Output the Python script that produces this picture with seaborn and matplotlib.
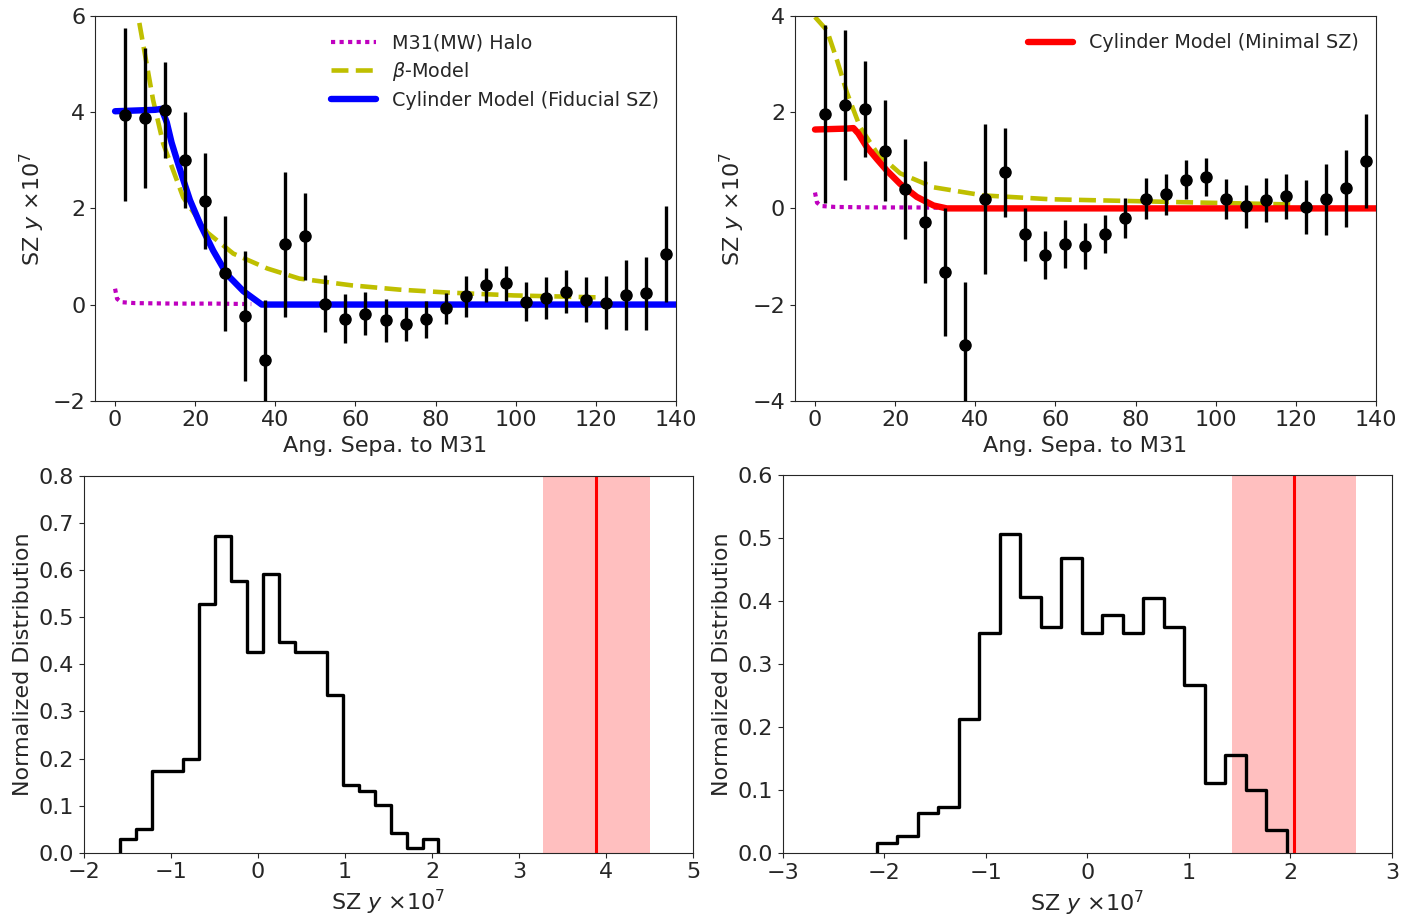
import numpy as np
import pandas as pd
import matplotlib
matplotlib.use("Agg")
import matplotlib.pyplot as plt
import seaborn as sns

# ---- profile data (angular separation in deg, SZ y x 1e7) ----
sep = [2.5, 7.5, 12.5, 17.5, 22.5, 27.5, 32.5, 37.5, 42.5, 47.5,
       52.5, 57.5, 62.5, 67.5, 72.5, 77.5, 82.5, 87.5, 92.5, 97.5,
       102.5, 107.5, 112.5, 117.5, 122.5, 127.5, 132.5, 137.5]

fid_y = [3.95, 3.88, 4.04, 3.0, 2.15, 0.65, -0.23, -1.15, 1.25, 1.42,
         0.02, -0.29, -0.19, -0.33, -0.40, -0.31, -0.08, 0.17, 0.40, 0.44,
         0.06, 0.14, 0.27, 0.10, 0.04, 0.20, 0.23, 1.06]
fid_err = [1.8, 1.45, 1.0, 1.0, 1.0, 1.2, 1.35, 1.25, 1.5, 0.9,
           0.6, 0.5, 0.45, 0.45, 0.35, 0.38, 0.33, 0.42, 0.35, 0.37,
           0.4, 0.43, 0.44, 0.47, 0.55, 0.72, 0.75, 1.0]

min_y = [1.96, 2.15, 2.06, 1.2, 0.41, -0.29, -1.33, -2.85, 0.2, 0.75,
         -0.54, -0.96, -0.75, -0.79, -0.53, -0.2, 0.2, 0.29, 0.6, 0.65,
         0.2, 0.04, 0.17, 0.25, 0.02, 0.19, 0.42, 0.98]
min_err = [1.85, 1.55, 1.0, 1.05, 1.04, 1.27, 1.33, 1.32, 1.56, 0.92,
           0.55, 0.5, 0.5, 0.48, 0.4, 0.42, 0.43, 0.43, 0.4, 0.4,
           0.42, 0.44, 0.46, 0.47, 0.56, 0.74, 0.8, 0.98]

# ---- model curves ----
halo_x = [0, 0.5, 1.5, 5, 15, 25, 34]
halo_y = [0.33, 0.12, 0.05, 0.03, 0.02, 0.02, 0.01]

beta_fid_x = [0, 3, 5.75, 9.5, 12, 17, 23, 29.5, 38, 46, 59, 71, 83, 99.5, 120]
beta_fid_y = [8.0, 7.3, 6.0, 4.25, 3.35, 2.23, 1.5, 1.06, 0.75, 0.54, 0.40, 0.31, 0.25, 0.19, 0.15]

beta_min_x = [0, 3, 5.5, 8, 11.25, 15.5, 21.25, 29.5, 42, 58.75, 91, 120]
beta_min_y = [3.98, 3.7, 3.08, 2.4, 1.69, 1.15, 0.73, 0.44, 0.27, 0.19, 0.13, 0.08]

cyl_fid_x = [0, 10, 11.6, 12.9, 14.1, 15.4, 17.0, 18.7, 21.2, 24.5, 27.9, 32.0, 36.6, 140]
cyl_fid_y = [4.02, 4.05, 4.07, 3.79, 3.37, 3.02, 2.60, 2.17, 1.68, 1.12, 0.63, 0.28, 0.0, 0.0]

cyl_min_x = [0, 8, 9.6, 10.8, 12.9, 15.4, 17.9, 21.25, 25.4, 29.6, 32.9, 140]
cyl_min_y = [1.64, 1.66, 1.67, 1.56, 1.28, 1.03, 0.79, 0.51, 0.24, 0.06, 0.0, 0.0]

# ---- null distributions (normalized histograms) ----
hist_fid = [0.03, 0.05, 0.173, 0.173, 0.20, 0.529, 0.673, 0.577, 0.426, 0.591,
            0.447, 0.427, 0.427, 0.335, 0.143, 0.131, 0.102, 0.041, 0.01, 0.029]
hist_fid_range = (-1.59, 2.074)

hist_min = [0.017, 0.027, 0.064, 0.074, 0.213, 0.350, 0.506, 0.406, 0.359, 0.469,
            0.350, 0.378, 0.350, 0.405, 0.359, 0.267, 0.111, 0.156, 0.10, 0.037]
hist_min_range = (-2.077, 1.963)

obs_fid, obs_fid_err = 3.89, 0.62
obs_min, obs_min_err = 2.035, 0.61

sns.set_style("ticks")
plt.rcParams['font.family'] = ['DejaVu Sans']
plt.rcParams['mathtext.fontset'] = 'dejavusans'
FS = 16
LFS = 13.8

fig = plt.figure(figsize=(14.08, 9.17), dpi=100)
ax1 = fig.add_axes([0.0675, 0.5630, 0.4126, 0.4195])
ax2 = fig.add_axes([0.5646, 0.5630, 0.4126, 0.4195])
ax3 = fig.add_axes([0.0597, 0.0701, 0.4325, 0.4108])
ax4 = fig.add_axes([0.5561, 0.0695, 0.4325, 0.4125])

ylab = r'SZ $y$ $\times10^7$'


def profile_panel(ax, y, err, beta_x, beta_y, cyl_x, cyl_y, cyl_color, cyl_label, show_all):
    sns.lineplot(x=halo_x, y=halo_y, ax=ax, color='m', linestyle=(0, (1, 1.05)), lw=3.0,
                 label='M31(MW) Halo' if show_all else None, estimator=None, sort=False)
    sns.lineplot(x=beta_x, y=beta_y, ax=ax, color='y', linestyle='--', lw=3.3,
                 label=r'$\beta$-Model' if show_all else None, estimator=None, sort=False)
    sns.lineplot(x=cyl_x, y=cyl_y, ax=ax, color=cyl_color, lw=4.6,
                 label=cyl_label, estimator=None, sort=False)
    ax.errorbar(sep, y, yerr=err, fmt='o', color='k', ms=8, elinewidth=2.4, capsize=0, zorder=5)
    ax.set_xlim(-5, 140)
    ax.set_xticks([0, 20, 40, 60, 80, 100, 120, 140])
    ax.set_xlabel('Ang. Sepa. to M31', fontsize=FS)
    ax.set_ylabel(ylab, fontsize=FS)
    ax.tick_params(labelsize=FS)
    ax.legend(loc='upper right', frameon=False, fontsize=LFS, handlelength=2.35,
              labelspacing=0.4)


profile_panel(ax1, fid_y, fid_err, beta_fid_x, beta_fid_y, cyl_fid_x, cyl_fid_y,
              'b', 'Cylinder Model (Fiducial SZ)', True)
ax1.set_ylim(-2, 6)
ax1.set_yticks([-2, 0, 2, 4, 6])

profile_panel(ax2, min_y, min_err, beta_min_x, beta_min_y, cyl_min_x, cyl_min_y,
              'r', 'Cylinder Model (Minimal SZ)', False)
ax2.set_ylim(-4, 4)
ax2.set_yticks([-4, -2, 0, 2, 4])


def hist_panel(ax, heights, rng, obs, obs_err):
    edges = np.linspace(rng[0], rng[1], len(heights) + 1)
    df = pd.DataFrame({'sz': 0.5 * (edges[:-1] + edges[1:]), 'w': heights})
    sns.histplot(data=df, x='sz', weights='w', bins=list(edges), element='step', fill=False,
                 color='k', lw=2.4, ax=ax)
    # close the outline down to zero at both ends, like a step histogram
    line = ax.lines[-1]
    xs, ys = line.get_data()
    line.set_data(np.r_[xs[0], xs, xs[-1]], np.r_[0, ys, 0])
    ax.axvspan(obs - obs_err, obs + obs_err, color='r', alpha=0.25, lw=0)
    ax.axvline(obs, color='r', lw=2.2)
    ax.set_ylabel('Normalized Distribution', fontsize=FS)
    ax.set_xlabel(ylab, fontsize=FS)
    ax.tick_params(labelsize=FS)


hist_panel(ax3, hist_fid, hist_fid_range, obs_fid, obs_fid_err)
ax3.set_xlim(-2, 5)
ax3.set_ylim(0, 0.8)
ax3.set_yticks(np.arange(0, 0.81, 0.1))

hist_panel(ax4, hist_min, hist_min_range, obs_min, obs_min_err)
ax4.set_xlim(-3, 3)
ax4.set_ylim(0, 0.6)
ax4.set_yticks(np.arange(0, 0.61, 0.1))

for ax in (ax3, ax4):
    ax.set_yticklabels([f'{v:.1f}' for v in ax.get_yticks()])

fig.savefig('out.png', dpi=100)
